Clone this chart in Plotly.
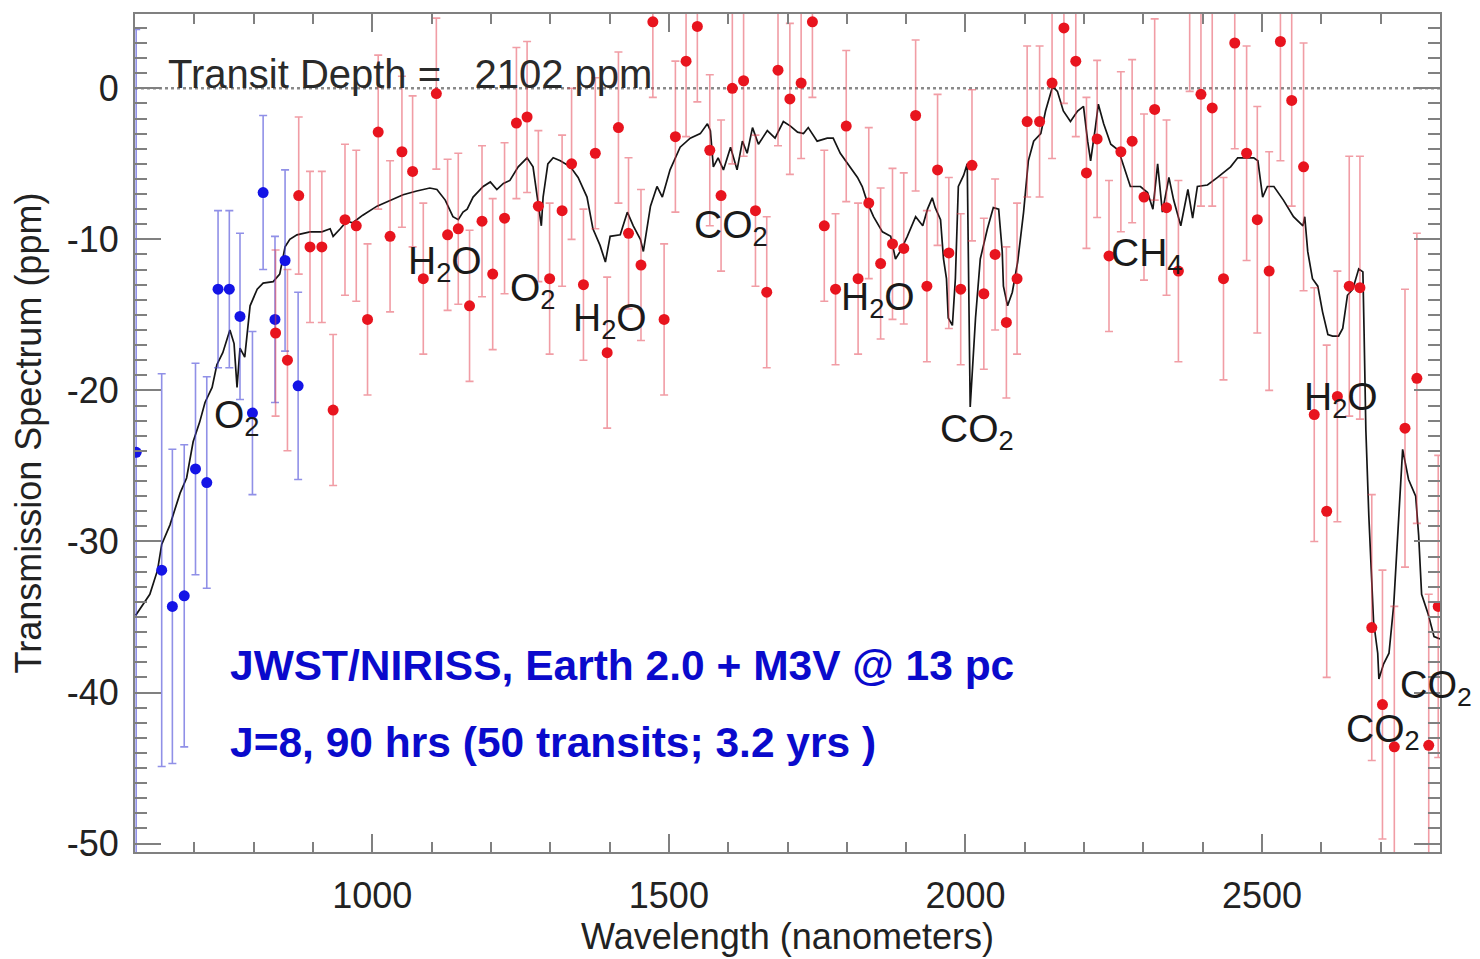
import plotly.graph_objects as go

# ---------------- data ----------------
model_wl = [601, 610, 625, 638, 645, 659, 676, 687, 698, 709,
            718, 730, 738, 748, 760, 767, 772, 777, 785, 794,
            806, 816, 833, 844, 853, 861, 873, 895, 915, 929,
            934, 946, 957, 967, 984, 1008, 1030, 1052, 1075, 1097,
            1109, 1123, 1136, 1145, 1153, 1160, 1170, 1187, 1199, 1210,
            1221, 1232, 1246, 1261, 1271, 1280, 1285, 1288, 1296, 1305,
            1317, 1334, 1347, 1362, 1372, 1384, 1393, 1401, 1418, 1430,
            1440, 1452, 1457, 1469, 1480, 1489, 1502, 1519, 1536, 1553,
            1565, 1570, 1575, 1583, 1592, 1604, 1615, 1624, 1632, 1641,
            1651, 1666, 1679, 1693, 1705, 1717, 1727, 1735, 1750, 1767,
            1777, 1789, 1803, 1818, 1826, 1835, 1845, 1860, 1874, 1882,
            1890, 1902, 1916, 1928, 1936, 1944, 1949, 1958, 1963, 1968,
            1971, 1978, 1983, 1988, 1997, 2003, 2008, 2017, 2025, 2037,
            2047, 2056, 2062, 2064, 2071, 2079, 2088, 2098, 2106, 2115,
            2127, 2135, 2147, 2155, 2165, 2177, 2189, 2199, 2206, 2211,
            2219, 2224, 2233, 2245, 2258, 2278, 2295, 2307, 2316, 2324,
            2332, 2343, 2351, 2363, 2375, 2383, 2391, 2408, 2425, 2435,
            2447, 2459, 2469, 2486, 2493, 2501, 2509, 2520, 2536, 2553,
            2569, 2572, 2577, 2585, 2594, 2602, 2611, 2619, 2629, 2636,
            2644, 2653, 2663, 2670, 2672, 2675, 2680, 2688, 2695, 2697,
            2705, 2714, 2722, 2731, 2737, 2747, 2759, 2764, 2769, 2780,
            2790, 2800]
model_ppm = [-34.9, -34.4, -33.5, -31.9, -30.2, -28.9, -26.8, -25.8, -23.4, -22.1,
             -20.8, -19.8, -18.3, -17.5, -16.0, -16.9, -19.8, -17.2, -17.8, -14.4,
             -13.3, -12.9, -12.8, -12.3, -10.5, -10.0, -9.7, -9.5, -9.5, -9.3,
             -9.8, -9.3, -8.8, -8.9, -8.4, -7.8, -7.4, -7.05, -6.8, -6.6,
             -6.7, -7.4, -8.5, -8.7, -8.2, -8.0, -7.2, -6.5, -6.2, -6.7,
             -6.3, -6.1, -5.2, -4.6, -5.2, -7.8, -9.1, -7.2, -5.0, -4.6,
             -4.8, -5.2, -5.9, -7.2, -9.3, -10.4, -11.5, -9.8, -9.7, -8.2,
             -9.1, -10.0, -10.8, -7.8, -6.5, -7.2, -5.4, -3.9, -3.3, -3.0,
             -2.35, -2.8, -5.2, -4.6, -5.4, -3.9, -5.4, -3.5, -4.3, -2.6,
             -3.7, -2.8, -3.3, -2.2, -2.5, -2.9, -3.0, -2.6, -3.5, -3.3,
             -3.3, -4.3, -5.1, -5.9, -6.5, -7.6, -8.5, -9.5, -9.8, -11.3,
             -10.8, -9.8, -8.5, -9.1, -8.0, -7.25, -7.9, -8.7, -11.3, -12.6,
             -15.2, -15.7, -12.6, -6.5, -5.75, -5.0, -21.1, -15.2, -11.3, -9.3,
             -7.9, -8.0, -10.8, -13.1, -14.4, -13.5, -11.5, -8.2, -4.8, -3.5,
             -3.0, -1.5, 0.13, -0.2, -1.5, -2.2, -1.5, -1.2, -3.5, -4.8,
             -2.6, -1.05, -2.35, -3.7, -4.1, -6.5, -6.5, -6.9, -8.0, -5.0,
             -8.2, -5.9, -7.4, -9.1, -6.7, -8.6, -6.5, -6.4, -5.9, -5.6,
             -5.2, -4.6, -4.6, -4.6, -4.8, -7.2, -6.5, -6.5, -7.4, -8.5,
             -9.1, -8.5, -10.8, -12.6, -13.1, -14.8, -16.3, -16.4, -16.4, -15.9,
             -13.7, -13.3, -11.95, -12.15, -16.1, -22.6, -28.3, -35.3, -37.4, -39.1,
             -38.1, -37.4, -34.2, -28.3, -23.9, -25.9, -27.0, -29.6, -33.5, -34.8,
             -36.3, -36.45]

blue_wl = [602, 645, 663, 683, 702, 721, 740, 759, 777, 798, 816, 836, 853, 875]
blue_ppm = [-24.1, -31.9, -34.3, -33.6, -25.2, -26.1, -13.3, -13.3, -15.1, -21.5,
            -6.9, -15.3, -11.4, -19.7]
blue_err = [28, 13, 10.4, 10, 7, 7, 5.2, 5.2, 5.5, 5.4, 5.1, 5.5, 6, 6.2]

red_wl = [837, 857, 876, 895, 915, 934, 954, 973, 992, 1010,
          1030, 1050, 1068, 1086, 1108, 1127, 1145, 1164, 1185, 1203,
          1223, 1243, 1261, 1280, 1299, 1320, 1336, 1356, 1376, 1396,
          1415, 1432, 1453, 1473, 1492, 1511, 1529, 1548, 1569, 1588,
          1607, 1626, 1646, 1665, 1684, 1704, 1723, 1742, 1762, 1781,
          1799, 1819, 1837, 1857, 1877, 1896, 1916, 1935, 1953, 1972,
          1992, 2011, 2031, 2050, 2069, 2087, 2104, 2125, 2146, 2166,
          2186, 2204, 2222, 2242, 2262, 2281, 2301, 2319, 2339, 2359,
          2378, 2397, 2416, 2435, 2454, 2474, 2492, 2512, 2531, 2550,
          2570, 2588, 2609, 2627, 2647, 2665, 2685, 2703, 2723, 2741,
          2761, 2781, 2797]
red_ppm = [-16.2, -18.0, -7.1, -10.5, -10.5, -21.3, -8.7, -9.1, -15.3, -2.9,
           -9.8, -4.2, -5.5, -12.6, -0.35, -9.7, -9.3, -14.4, -8.8, -12.3,
           -8.6, -2.3, -1.9, -7.8, -12.6, -8.1, -5.0, -13.0, -4.3, -17.5,
           -2.6, -9.6, -11.7, 4.4, -15.3, -3.2, 1.8, 4.1, -4.1, -7.1,
           0.0, 0.5, -8.1, -13.5, 1.2, -0.7, 0.35, 4.4, -9.1, -13.3,
           -2.5, -12.6, -7.6, -11.6, -10.3, -10.6, -1.8, -13.1, -5.4, -10.9,
           -13.3, -5.1, -13.6, -11.0, -15.5, -12.6, -2.2, -2.2, 0.35, 4.0,
           1.8, -5.6, -3.35, -11.1, -4.2, -3.5, -7.2, -1.4, -7.9, -12.1,
           5.6, -0.4, -1.3, -12.6, 3.0, -4.3, -8.7, -12.1, 3.1, -0.8,
           -5.2, -21.6, -28.0, -20.4, -13.1, -13.2, -35.7, -40.8, -43.6, -22.5,
           -19.2, -43.5, -34.3]
red_err = [5.5, 6, 5.2, 5, 5, 5, 5, 5, 5, 5.1,
           5, 5, 5, 5, 5, 5, 5, 5, 5, 5,
           5, 5, 5, 5, 5, 5, 5, 5, 5, 5,
           5, 5, 5, 5, 5, 5, 5, 5, 5, 5,
           5, 5, 5, 5, 5, 5, 5, 5, 5, 5,
           5, 5, 5, 5, 5, 5, 5, 5, 5, 5,
           5, 5, 5, 5, 5, 5, 5, 5, 5, 5,
           5, 5, 5.2, 5, 5.3, 5.4, 5.5, 6, 5.8, 6,
           5.8, 7.4, 6.5, 6.7, 7, 7.1, 7.5, 7.9, 7.9, 7,
           8.2, 8.4, 11, 8.3, 8.6, 8.7, 8.8, 8.9, 9.3, 9.2,
           9.6, 10, 10]

x_ticks = [1000, 1500, 2000, 2500]
y_ticks = [0, -10, -20, -30, -40, -50]
y_tick_labels = ["0", "-10", "-20", "-30", "-40", "-50"]

# molecule labels: (text, wavelength, ppm)
mol_labels = [
    ("H<sub>2</sub>O", 1122, -11.6),
    ("O<sub>2</sub>", 1271, -13.4),
    ("H<sub>2</sub>O", 1401, -15.4),
    ("CO<sub>2</sub>", 1605, -9.2),
    ("O<sub>2</sub>", 772, -21.8),
    ("H<sub>2</sub>O", 1852, -14.0),
    ("CO<sub>2</sub>", 2020, -22.7),
    ("CH<sub>4</sub>", 2306, -11.1),
    ("H<sub>2</sub>O", 2633, -20.6),
    ("CO<sub>2</sub>", 2704, -42.6),
]

FONT = "Liberation Sans, Arial, Helvetica, sans-serif"
AXC = "#808080"

fig = go.Figure()

fig.add_trace(go.Scatter(
    x=model_wl, y=model_ppm, mode="lines",
    line=dict(color="#151515", width=1.7), hoverinfo="skip"))

fig.add_trace(go.Scatter(
    x=blue_wl, y=blue_ppm, mode="markers",
    marker=dict(color="#1414e6", size=11),
    error_y=dict(type="data", array=blue_err, visible=True,
                 color="rgba(70,70,215,0.6)", thickness=1.6, width=4)))

fig.add_trace(go.Scatter(
    x=red_wl, y=red_ppm, mode="markers",
    marker=dict(color="#e8141e", size=11),
    error_y=dict(type="data", array=red_err, visible=True,
                 color="rgba(228,60,75,0.5)", thickness=1.6, width=4)))

fig.add_shape(type="line", xref="paper", x0=0, x1=1, yref="y", y0=0, y1=0,
              line=dict(color="#8a8a8a", width=2.5, dash="dot"), layer="below")

for txt, wx, wy in mol_labels:
    fig.add_annotation(x=wx, y=wy, text=txt, showarrow=False,
                       xanchor="center", yanchor="middle",
                       font=dict(family=FONT, size=39, color="#1a1a1a"))

# CO2 label at the right edge (partly outside the frame)
fig.add_annotation(x=2790, y=-39.7, text="CO<sub>2</sub>", showarrow=False,
                   xanchor="center", yanchor="middle", xshift=2,
                   font=dict(family=FONT, size=38, color="#1a1a1a"))

fig.add_annotation(x=652, y=0.95, text="Transit Depth =   2102 ppm",
                   showarrow=False, xanchor="left", yanchor="middle",
                   font=dict(family=FONT, size=40, color="#2a2a2a"))

fig.add_annotation(x=756, y=-38.2, text="<b>JWST/NIRISS, Earth 2.0 + M3V @ 13 pc</b>",
                   showarrow=False, xanchor="left", yanchor="middle",
                   font=dict(family=FONT, size=42.5, color="#0a0acc"))
fig.add_annotation(x=756, y=-43.3, text="<b>J=8, 90 hrs (50 transits; 3.2 yrs )</b>",
                   showarrow=False, xanchor="left", yanchor="middle",
                   font=dict(family=FONT, size=42.5, color="#0a0acc"))

fig.update_layout(
    width=1480, height=959,
    margin=dict(l=135, r=40, t=12, b=98),
    paper_bgcolor="white", plot_bgcolor="white",
    showlegend=False,
    font=dict(family=FONT, color="#222222"),
    xaxis=dict(
        range=[600, 2800], tickvals=x_ticks, ticks="inside", ticklen=18,
        tickwidth=2, tickcolor=AXC, showline=True, linecolor=AXC, linewidth=2,
        mirror="allticks", showgrid=False, zeroline=False,
        ticklabelstandoff=11,
        tickfont=dict(family=FONT, size=36, color="#222222"),
        minor=dict(dtick=100, tick0=0, ticks="inside", ticklen=10, tickwidth=1.5,
                   tickcolor=AXC, showgrid=False),
        title=dict(text="Wavelength (nanometers)", standoff=6,
                   font=dict(family=FONT, size=36, color="#222222")),
    ),
    yaxis=dict(
        range=[-50.56, 4.92], tickvals=y_ticks, ticktext=y_tick_labels,
        ticks="inside", ticklen=26, tickwidth=2, tickcolor=AXC,
        showline=True, linecolor=AXC, linewidth=2, mirror="allticks",
        showgrid=False, zeroline=False, ticklabelstandoff=7,
        tickfont=dict(family=FONT, size=36, color="#222222"),
        minor=dict(dtick=1, tick0=0, ticks="inside", ticklen=12, tickwidth=1.5,
                   tickcolor=AXC, showgrid=False),
        title=dict(text="Transmission Spectrum (ppm)", standoff=14,
                   font=dict(family=FONT, size=36, color="#222222")),
    ),
)

fig.write_html("out.html")
